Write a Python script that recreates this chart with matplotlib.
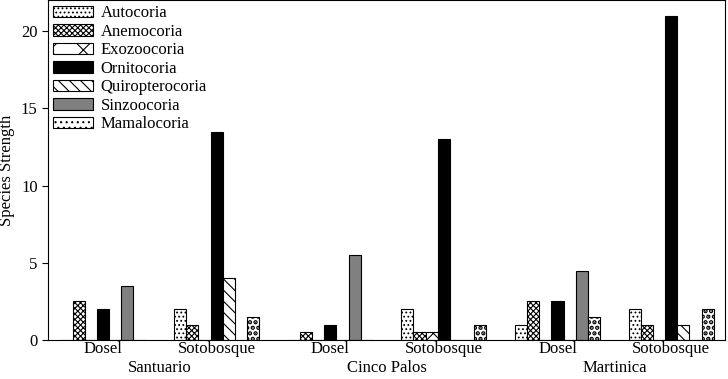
import matplotlib.pyplot as plt
import numpy as np

plt.rcParams['font.family'] = 'Liberation Serif'
plt.rcParams['font.size'] = 12
plt.rcParams['hatch.linewidth'] = 0.8

sites = ["Santuario", "Cinco Palos", "Martinica"]
strata = ["Dosel", "Sotobosque"]
categories = ["Autocoria", "Anemocoria", "Exozoocoria", "Ornitocoria",
              "Quiropterocoria", "Sinzoocoria", "Mamalocoria"]

# values per group: Santuario Dosel, Santuario Sotobosque, Cinco Palos Dosel,
# Cinco Palos Sotobosque, Martinica Dosel, Martinica Sotobosque
autocoria = [0, 2, 0, 2, 1, 2]
anemocoria = [2.5, 1, 0.5, 0.5, 2.5, 1]
exozoocoria = [0, 0, 0, 0.5, 0, 0]
ornitocoria = [2, 13.5, 1, 13, 2.5, 21]
quiropterocoria = [0, 4, 0, 0, 0, 1]
sinzoocoria = [3.5, 0, 5.5, 0, 4.5, 0]
mamalocoria = [0, 1.5, 0, 1, 1.5, 2]

series = [autocoria, anemocoria, exozoocoria, ornitocoria,
          quiropterocoria, sinzoocoria, mamalocoria]
colors = ['white', 'white', 'white', 'black', 'white', '#808080', 'white']
hatches = ['....', 'xxxxxx', '/\\', None, '\\\\\\', None, '...']

fig, ax = plt.subplots(figsize=(7.28, 3.79), dpi=100)
fig.subplots_adjust(left=0.066, right=0.996, top=0.999, bottom=0.103)

x = np.arange(6)
w = 0.107
for i, (vals, c, h, name) in enumerate(zip(series, colors, hatches, categories)):
    bars = ax.bar(x + (i - 3) * w, vals, w, color=c, edgecolor='black',
                  hatch=h, linewidth=0.8, label=name)
    if name == "Mamalocoria":
        # bigger black dots for this one
        for p in bars:
            if hasattr(p, 'set_hatch_linewidth'):
                p.set_hatch_linewidth(2.2)

ax.set_xlim(-0.484, 5.475)
ax.set_ylim(0, 22)
ax.set_yticks([0, 5, 10, 15, 20])
ax.set_xticks(x)
ax.set_xticklabels(strata * 3)
ax.tick_params(axis='x', length=0, pad=1)
ax.tick_params(axis='y', direction='out', length=4)
ax.set_ylabel('Species Strength')

for k, site in enumerate(sites):
    ax.text(2 * k + 0.5, -1.8, site, ha='center', va='center')

ax.legend(loc='upper left', frameon=False, handlelength=2.4, handleheight=0.7,
          borderaxespad=0.0, borderpad=0.3, labelspacing=0.15, handletextpad=0.45)

plt.savefig('out.png', dpi=100)
